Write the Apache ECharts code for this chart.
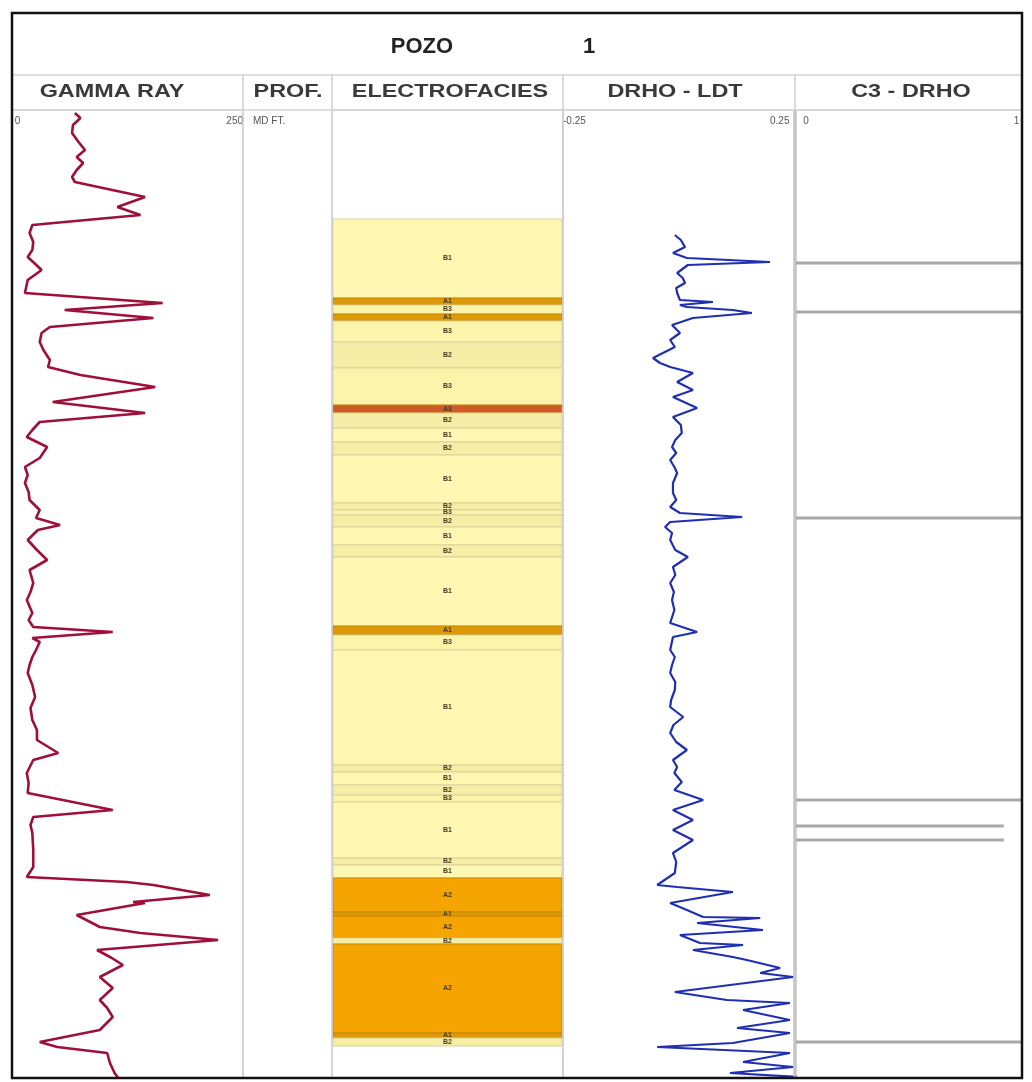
<!DOCTYPE html>
<html>
<head>
<meta charset="utf-8">
<script src="https://cdn.jsdelivr.net/npm/echarts@6/dist/echarts.min.js"></script>
<style>
html,body{margin:0;padding:0;background:#fff;}
#chart{width:1032px;height:1082px;}
</style>
</head>
<body>
<div id="chart"></div>
<script>
// ---------- DATA ----------
const wellName = 'POZO';
const wellNumber = '1';
const trackTitles = ['GAMMA RAY', 'PROF.', 'ELECTROFACIES', 'DRHO - LDT', 'C3 - DRHO'];
const depthUnitLabel = 'MD FT.';
const grTicks = [0, 250];
const drhoTicks = [-0.25, 0.25];
const c3Ticks = [0, 1];

// Gamma ray curve (API) vs depth
const grDepth = [3, 8, 15, 23, 32, 40, 47, 53, 60, 67, 72, 87, 97, 105, 115, 123, 132, 140, 147, 153, 160, 170, 183, 193, 200, 208, 217, 223, 232, 240, 250, 257, 265, 277, 292, 303, 312, 320, 327, 337, 348, 357, 365, 373, 382, 390, 400, 408, 415, 420, 430, 440, 450, 460, 473, 482, 490, 503, 510, 517, 522, 528, 532, 540, 547, 555, 563, 575, 587, 598, 610, 620, 630, 643, 650, 663, 673, 683, 700, 707, 715, 723, 740, 757, 767, 772, 775, 785, 792, 793, 805, 817, 823, 830, 840, 848, 855, 867, 878, 890, 898, 907, 920, 932, 937, 943, 953, 963, 968];
const grValue = [68, 74, 66, 65, 72, 79, 70, 77, 70, 65, 68, 144, 114, 139, 22, 19, 23, 22, 17, 24, 32, 17, 14, 163, 57, 153, 41, 32, 30, 34, 41, 39, 74, 155, 44, 144, 30, 22, 16, 38, 30, 14, 17, 14, 18, 19, 30, 26, 52, 28, 17, 27, 38, 19, 23, 20, 16, 22, 18, 23, 109, 22, 30, 26, 22, 19, 17, 22, 25, 20, 22, 27, 27, 50, 23, 16, 18, 17, 109, 23, 20, 22, 23, 23, 16, 124, 153, 214, 131, 144, 70, 95, 139, 223, 92, 108, 120, 95, 109, 95, 103, 109, 95, 30, 49, 103, 106, 111, 115];

// DRHO curve (g/cc) vs depth
const drhoDepth = [125, 130, 137, 143, 148, 152, 155, 163, 168, 173, 178, 183, 190, 192, 195, 197, 200, 203, 208, 215, 223, 230, 237, 248, 253, 257, 263, 272, 280, 287, 298, 307, 315, 323, 330, 337, 343, 350, 357, 363, 373, 383, 390, 397, 403, 407, 412, 417, 423, 430, 440, 447, 457, 465, 473, 482, 490, 500, 513, 522, 527, 540, 547, 555, 563, 572, 580, 590, 597, 607, 615, 623, 632, 640, 650, 657, 663, 672, 680, 690, 700, 710, 720, 730, 743, 752, 763, 775, 777, 782, 793, 800, 807, 808, 813, 820, 825, 833, 835, 840, 847, 850, 858, 863, 867, 882, 890, 893, 900, 910, 918, 923, 933, 937, 943, 952, 957, 963, 967];
const drhoValue = [-0.009, 0.004, 0.013, -0.013, 0.017, 0.196, 0.019, -0.004, 0.008, 0.013, -0.006, -0.004, 0.002, 0.073, 0.002, 0.017, 0.116, 0.157, 0.030, -0.015, 0.002, -0.019, -0.009, -0.056, -0.041, -0.019, 0.030, -0.004, 0.030, -0.013, 0.039, -0.013, 0.004, 0.006, -0.008, -0.015, -0.006, -0.019, -0.010, -0.004, -0.013, -0.013, -0.006, -0.019, 0.002, 0.136, -0.019, -0.030, -0.015, -0.019, -0.008, 0.019, -0.013, -0.008, -0.019, -0.011, -0.015, -0.010, -0.019, 0.039, -0.013, -0.019, -0.009, -0.015, -0.019, -0.008, -0.009, -0.017, -0.019, 0.009, -0.012, -0.019, -0.006, 0.017, -0.013, -0.004, -0.010, 0.006, -0.010, 0.052, -0.013, 0.030, -0.013, 0.030, -0.013, -0.006, -0.009, -0.047, -0.004, 0.116, -0.019, 0.017, 0.052, 0.175, 0.039, 0.181, 0.002, 0.045, 0.138, 0.030, 0.116, 0.146, 0.218, 0.175, 0.246, -0.009, 0.103, 0.239, 0.138, 0.239, 0.125, 0.239, 0.116, -0.047, 0.239, 0.138, 0.246, 0.110, 0.261];

// C3 - DRHO flags (fraction) at depth
const c3Depth = [153, 202, 408, 690, 716, 730, 932];
const c3Value = [1, 1, 1, 1, 0.92, 0.92, 1];

// Electrofacies intervals
const faciesTop  = [109, 188, 195, 204, 211, 232, 258, 295, 303, 318, 332, 345, 393, 400, 405, 417, 435, 447, 516, 525, 540, 655, 662, 675, 685, 692, 748, 755, 768, 802, 806, 828, 834, 923, 928];
const faciesBase = [188, 195, 204, 211, 232, 258, 295, 303, 318, 332, 345, 393, 400, 405, 417, 435, 447, 516, 525, 540, 655, 662, 675, 685, 692, 748, 755, 768, 802, 806, 828, 834, 923, 928, 936];
const faciesCode = ['B1', 'A1', 'B3', 'A1', 'B3', 'B2', 'B3', 'A3', 'B2', 'B1', 'B2', 'B1', 'B2', 'B3', 'B2', 'B1', 'B2', 'B1', 'A1', 'B3', 'B1', 'B2', 'B1', 'B2', 'B3', 'B1', 'B2', 'B1', 'A2', 'A1', 'A2', 'B2', 'A2', 'A1', 'B2'];

const depthMin = 0, depthMax = 968;

// ---------- STYLE ----------
const faciesColor = { B1: '#fff7b2', B2: '#f6eea6', B3: '#fcf4ab', A1: '#dc9a06', A2: '#f5a400', A3: '#cf5a28' };
const X0 = 12, X1 = 243, X2 = 332, X3 = 563, X4 = 795, X5 = 1022;
const TOP = 110, BOT = 1078;

const chart = echarts.init(document.getElementById('chart'), null, { renderer: 'canvas' });

function grid(left, right) {
  return { left: left, top: TOP, width: right - left, height: BOT - TOP, show: true, borderColor: '#cfcfcf', borderWidth: 1, backgroundColor: 'transparent' };
}
function xAxis(idx, min, max, ticks, fmt) {
  return {
    type: 'value', gridIndex: idx, min: min, max: max, position: 'top',
    axisLine: { show: false }, axisTick: { show: false }, splitLine: { show: false },
    axisLabel: ticks ? {
      show: true, inside: true, customValues: ticks, margin: 6,
      alignMinLabel: 'left', alignMaxLabel: 'right',
      fontSize: 10, color: '#555', fontFamily: 'Liberation Sans, Arial',
      formatter: fmt || (v => String(v))
    } : { show: false }
  };
}
function yAxis(idx) {
  return { type: 'value', gridIndex: idx, inverse: true, min: depthMin, max: depthMax, show: false };
}

const grData = grDepth.map((d, i) => [grValue[i], d]);
const drhoData = drhoDepth.map((d, i) => [drhoValue[i], d]);
const c3Data = [[0, depthMin]];
c3Depth.forEach((d, i) => { c3Data.push([0, d]); c3Data.push([c3Value[i], d]); c3Data.push([0, d]); });
c3Data.push([0, depthMax]);
const faciesData = faciesTop.map((t, i) => [t, faciesBase[i], i]);

const headerCenters = [112, 288, 450, 675, 911];
const graphics = [
  { type: 'text', x: 422, y: 47, z: 10, style: { text: wellName, fontSize: 22, fontWeight: 'bold', fill: '#222', align: 'center', verticalAlign: 'middle', fontFamily: 'Liberation Sans, Arial' } },
  { type: 'text', x: 589, y: 47, z: 10, style: { text: wellNumber, fontSize: 22, fontWeight: 'bold', fill: '#222', align: 'center', verticalAlign: 'middle', fontFamily: 'Liberation Sans, Arial' } },
  { type: 'line', z: 5, shape: { x1: X0, y1: 75, x2: X5, y2: 75 }, style: { stroke: '#d4d4d4', lineWidth: 1.5 } },
  { type: 'line', z: 5, shape: { x1: X0, y1: TOP, x2: X5, y2: TOP }, style: { stroke: '#d4d4d4', lineWidth: 1.5 } },
  { type: 'text', x: 253, y: 121, z: 10, style: { text: depthUnitLabel, fontSize: 10, fill: '#555', align: 'left', verticalAlign: 'middle', fontFamily: 'Liberation Sans, Arial' } }
];
[X1, X2, X3, X4].forEach(x => graphics.push({ type: 'line', z: 5, shape: { x1: x, y1: 75, x2: x, y2: BOT }, style: { stroke: '#cfcfcf', lineWidth: 1.5 } }));
trackTitles.forEach((t, i) => graphics.push({ type: 'text', x: headerCenters[i], y: 92, z: 10, scaleX: 1.3, style: { text: t, fontSize: 18, fontWeight: 'bold', fill: '#3a3a3a', align: 'center', verticalAlign: 'middle', fontFamily: 'Liberation Sans, Arial' } }));
// outer frame
graphics.push({ type: 'rect', z: 20, shape: { x: X0, y: 13, width: X5 - X0, height: BOT - 13 }, style: { fill: 'none', stroke: '#111', lineWidth: 2.5 } });

const option = {
  backgroundColor: '#fff',
  animation: false,
  grid: [grid(X0, X1), grid(X2, X3), grid(X3, X4), grid(X4, X5)],
  xAxis: [
    xAxis(0, 0, 250, grTicks, v => (v === 0 ? ' 0' : String(v))),
    xAxis(1, 0, 1, null),
    xAxis(2, -0.25, 0.25, drhoTicks, v => (v < 0 ? '-' + Math.abs(v).toFixed(2) : Math.abs(v).toFixed(2) + '  ')),
    xAxis(3, 0, 1, c3Ticks, v => (v === 0 ? '   0' : String(v) + ' '))
  ],
  yAxis: [yAxis(0), yAxis(1), yAxis(2), yAxis(3)],
  graphic: graphics,
  series: [
    {
      name: 'GAMMA RAY', type: 'line', xAxisIndex: 0, yAxisIndex: 0, data: grData,
      showSymbol: false, symbol: 'none', clip: true,
      lineStyle: { color: '#9e103a', width: 2.6 }
    },
    {
      name: 'ELECTROFACIES', type: 'custom', xAxisIndex: 1, yAxisIndex: 1, data: faciesData, clip: true,
      renderItem: function (params, api) {
        const top = api.value(0), base = api.value(1), idx = api.value(2);
        const code = faciesCode[idx];
        const p1 = api.coord([0, top]);
        const p2 = api.coord([1, base]);
        const h = p2[1] - p1[1];
        return {
          type: 'group',
          children: [
            { type: 'rect', shape: { x: p1[0] + 1, y: p1[1], width: p2[0] - p1[0] - 2, height: h },
              style: { fill: faciesColor[code], stroke: code.charAt(0) === 'A' ? '#c98600' : '#d8d29a', lineWidth: 1 } },
            { type: 'text', x: (p1[0] + p2[0]) / 2, y: p1[1] + h / 2,
              style: { text: code, fontSize: 7, fontWeight: 'bold', fill: '#4a3a20', align: 'center', verticalAlign: 'middle', fontFamily: 'Liberation Sans, Arial' } }
          ]
        };
      }
    },
    {
      name: 'DRHO - LDT', type: 'line', xAxisIndex: 2, yAxisIndex: 2, data: drhoData,
      showSymbol: false, symbol: 'none', clip: true,
      lineStyle: { color: '#1f2fb0', width: 2.2 }
    },
    {
      name: 'C3 - DRHO', type: 'line', xAxisIndex: 3, yAxisIndex: 3, data: c3Data,
      showSymbol: false, symbol: 'none', clip: true,
      lineStyle: { color: '#a8a8a8', width: 3 }
    }
  ]
};
chart.setOption(option);
</script>
</body>
</html>
